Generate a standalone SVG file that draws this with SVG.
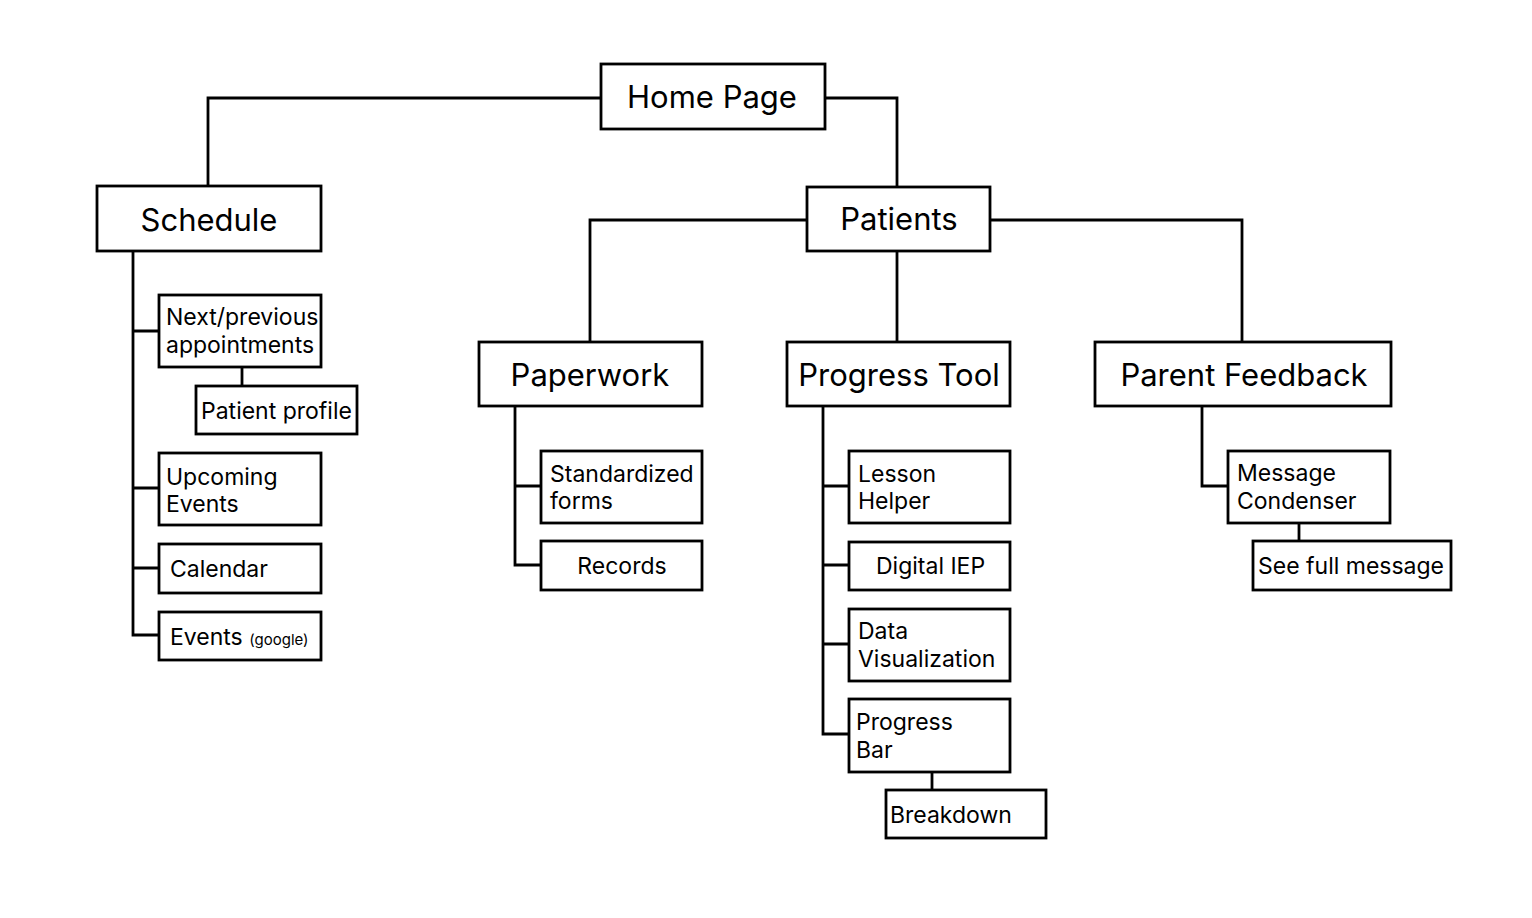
<svg xmlns="http://www.w3.org/2000/svg" width="1532" height="918" viewBox="0 0 1532 918">
<style>
.box{fill:#fff;stroke:#000;stroke-width:2.8}
.ln{fill:none;stroke:#000;stroke-width:2.8}
.big{font-family:Inter,"Liberation Sans",sans-serif;font-size:31px;fill:#000;text-anchor:middle}
.t{font-family:Inter,"Liberation Sans",sans-serif;font-size:23px;fill:#000}
.s{font-size:15px}
</style>
<rect width="1532" height="918" fill="#fff"/>
<g id="connectors">
<path class="ln" d="M601,98 H208 V186"/>
<path class="ln" d="M825,98 H897 V187"/>
<path class="ln" d="M807,220 H590 V342"/>
<path class="ln" d="M990,220 H1242 V342"/>
<path class="ln" d="M897,251 V342"/>
<path class="ln" d="M133,251 V635 H159 M133,331 H159 M133,488 H159 M133,568 H159"/>
<path class="ln" d="M242,367 V386"/>
<path class="ln" d="M515,406 V565 H541 M515,486 H541"/>
<path class="ln" d="M823,406 V734 H849 M823,486 H849 M823,565 H849 M823,644 H849"/>
<path class="ln" d="M932,772 V790"/>
<path class="ln" d="M1202,406 V486 H1228"/>
<path class="ln" d="M1299,523 V541"/>
</g>
<g id="home"><rect class="box" x="601" y="64" width="224" height="65"/><text class="big" x="712" y="108">Home Page</text></g>
<g id="schedule"><rect class="box" x="97" y="186" width="224" height="65"/><text class="big" x="209" y="231">Schedule</text></g>
<g id="patients"><rect class="box" x="807" y="187" width="183" height="64"/><text class="big" x="899" y="230">Patients</text></g>
<g id="paperwork"><rect class="box" x="479" y="342" width="223" height="64"/><text class="big" x="590" y="386">Paperwork</text></g>
<g id="progress-tool"><rect class="box" x="787" y="342" width="223" height="64"/><text class="big" x="899" y="386">Progress Tool</text></g>
<g id="parent-feedback"><rect class="box" x="1095" y="342" width="296" height="64"/><text class="big" x="1244" y="386">Parent Feedback</text></g>

<g id="next-previous"><rect class="box" x="159" y="295" width="162" height="72"/><text class="t" x="166" y="325">Next/previous</text><text class="t" x="166" y="353">appointments</text></g>
<g id="patient-profile"><rect class="box" x="196" y="386" width="161" height="48"/><text class="t" x="201" y="419">Patient profile</text></g>
<g id="upcoming-events"><rect class="box" x="159" y="453" width="162" height="72"/><text class="t" x="166" y="485">Upcoming</text><text class="t" x="166" y="512">Events</text></g>
<g id="calendar"><rect class="box" x="159" y="544" width="162" height="49"/><text class="t" x="170" y="577">Calendar</text></g>
<g id="events-google"><rect class="box" x="159" y="612" width="162" height="48"/><text class="t" x="170" y="645">Events <tspan class="s">(google)</tspan></text></g>

<g id="standardized-forms"><rect class="box" x="541" y="451" width="161" height="72"/><text class="t" x="550" y="482">Standardized</text><text class="t" x="550" y="509">forms</text></g>
<g id="records"><rect class="box" x="541" y="541" width="161" height="49"/><text class="t" x="622" y="574" text-anchor="middle">Records</text></g>

<g id="lesson-helper"><rect class="box" x="849" y="451" width="161" height="72"/><text class="t" x="858" y="482">Lesson</text><text class="t" x="858" y="509">Helper</text></g>
<g id="digital-iep"><rect class="box" x="849" y="542" width="161" height="48"/><text class="t" x="876" y="574">Digital IEP</text></g>
<g id="data-visualization"><rect class="box" x="849" y="609" width="161" height="72"/><text class="t" x="858" y="639">Data</text><text class="t" x="858" y="667">Visualization</text></g>
<g id="progress-bar"><rect class="box" x="849" y="699" width="161" height="73"/><text class="t" x="856" y="730">Progress</text><text class="t" x="856" y="758">Bar</text></g>
<g id="breakdown"><rect class="box" x="886" y="790" width="160" height="48"/><text class="t" x="890" y="823">Breakdown</text></g>

<g id="message-condenser"><rect class="box" x="1228" y="451" width="162" height="72"/><text class="t" x="1237" y="481">Message</text><text class="t" x="1237" y="509">Condenser</text></g>
<g id="see-full-message"><rect class="box" x="1253" y="541" width="198" height="49"/><text class="t" x="1258" y="574">See full message</text></g>
</svg>
